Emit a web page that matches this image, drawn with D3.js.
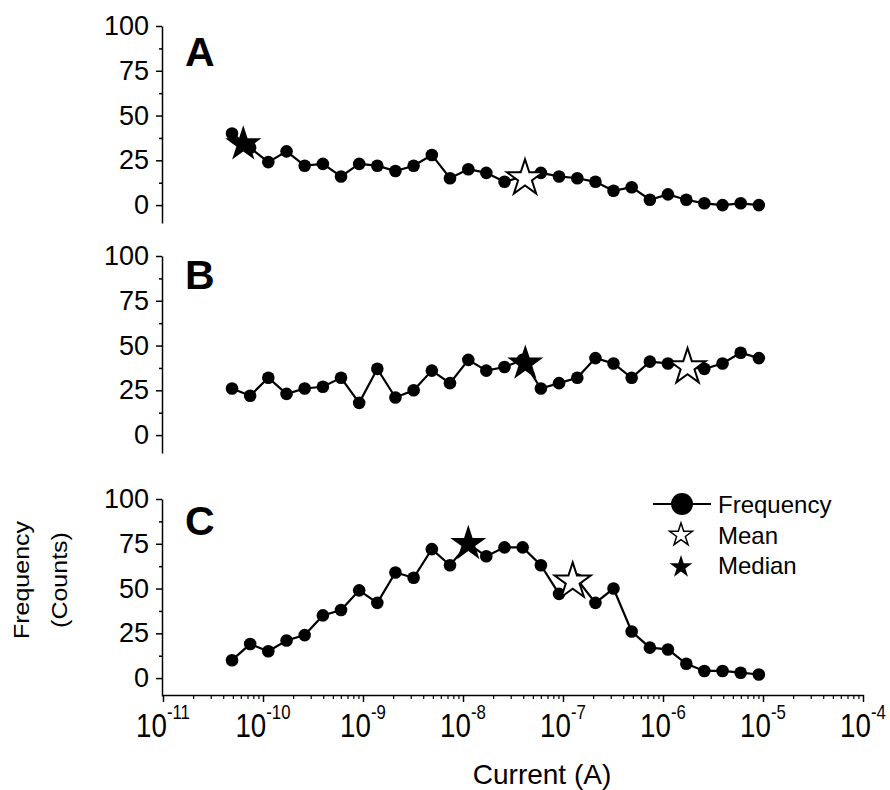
<!DOCTYPE html>
<html>
<head>
<meta charset="utf-8">
<script src="https://cdn.jsdelivr.net/npm/d3@7"></script>
<style>
  body { margin: 0; background: #fff; }
  text { font-family: Arial, "Liberation Sans", sans-serif; fill: #000; }
</style>
</head>
<body>
<svg width="890" height="790"></svg>
<script>
// bin centres (A)
const currents = [
  4.90e-11, 7.44e-11, 1.13e-10, 1.72e-10, 2.61e-10, 3.97e-10, 6.03e-10, 9.16e-10,
  1.39e-9, 2.11e-9, 3.21e-9, 4.88e-9, 7.41e-9, 1.13e-8, 1.71e-8, 2.60e-8,
  3.95e-8, 6.01e-8, 9.13e-8, 1.39e-7, 2.11e-7, 3.20e-7, 4.86e-7, 7.39e-7,
  1.12e-6, 1.71e-6, 2.59e-6, 3.94e-6, 5.98e-6, 9.09e-6
];

// counts per panel
const freqA = [40, 32, 24, 30, 22, 23, 16, 23, 22, 19, 22, 28, 15, 20, 18, 13,
               16, 18, 16, 15, 13, 8, 10, 3, 6, 3, 1, 0, 1, 0];
const freqB = [26, 22, 32, 23, 26, 27, 32, 18, 37, 21, 25, 36, 29, 42, 36, 38,
               42, 26, 29, 32, 43, 40, 32, 41, 40, 38, 37, 40, 46, 43];
const freqC = [10, 19, 15, 21, 24, 35, 38, 49, 42, 59, 56, 72, 63, 75, 68, 73,
               73, 63, 47, 55, 42, 50, 26, 17, 16, 8, 4, 4, 3, 2];

const meanX = [4.17e-8, 1.76e-6, 1.25e-7];
const meanY = [15, 38, 54];
const medianX = [6.35e-11, 4.2e-8, 1.13e-8];
const medianY = [34, 40, 75];

const panelNames = ['A', 'B', 'C'];
const yTicks = [0, 25, 50, 75, 100];
const yMinor = [12.5, 37.5, 62.5, 87.5];
const xExps = [-11, -10, -9, -8, -7, -6, -5, -4];

const svg = d3.select('svg');

const x = d3.scaleLog().domain([1e-11, 1e-4]).range([163, 863]);

const panels = [
  { name: panelNames[0], freq: freqA, top: 26, letterY: 66 },
  { name: panelNames[1], freq: freqB, top: 256, letterY: 289 },
  { name: panelNames[2], freq: freqC, top: 499, letterY: 535 }
];
panels.forEach((p, i) => {
  p.meanX = meanX[i]; p.meanY = meanY[i];
  p.medianX = medianX[i]; p.medianY = medianY[i];
});

const panelH = 197;
const star = d3.symbol().type(d3.symbolStar);
const starSize = 19 * 19 / 0.8908;

panels.forEach(p => {
  const y = d3.scaleLinear().domain([-10, 100]).range([p.top + panelH, p.top]);
  const g = svg.append('g');

  // y axis major
  const ya = g.append('g')
      .attr('transform', 'translate(162,0)')
      .call(d3.axisLeft(y).tickValues(yTicks).tickSize(6).tickSizeOuter(0).tickPadding(7));
  ya.selectAll('text').style('font-size', '27px').attr('font-family', null);
  ya.select('.domain').attr('stroke-width', 1.5);
  ya.selectAll('.tick line').attr('stroke-width', 1.5);

  // y axis minor
  const ym = g.append('g')
      .attr('transform', 'translate(162,0)')
      .call(d3.axisLeft(y).tickValues(yMinor).tickSize(3).tickFormat(''));
  ym.select('.domain').remove();
  ym.selectAll('.tick line').attr('stroke-width', 1.5);

  // panel letter
  g.append('text')
      .attr('x', 185).attr('y', p.letterY)
      .style('font-size', '41px').style('font-weight', 'bold')
      .text(p.name);

  // frequency line
  const line = d3.line().x((d, i) => x(currents[i])).y(d => y(d));
  g.append('path')
      .datum(p.freq)
      .attr('d', line)
      .attr('fill', 'none')
      .attr('stroke', '#000')
      .attr('stroke-width', 2.2);

  g.selectAll('circle.pt')
    .data(p.freq)
    .enter().append('circle')
      .attr('class', 'pt')
      .attr('cx', (d, i) => x(currents[i]))
      .attr('cy', d => y(d))
      .attr('r', 6.3)
      .attr('fill', '#000');

  // median (filled) and mean (open) stars
  g.append('path')
      .attr('d', star.size(starSize)())
      .attr('transform', `translate(${x(p.medianX)},${y(p.medianY)})`)
      .attr('fill', '#000');
  g.append('path')
      .attr('d', star.size(starSize)())
      .attr('transform', `translate(${x(p.meanX)},${y(p.meanY)})`)
      .attr('fill', '#fff')
      .attr('stroke', '#000')
      .attr('stroke-width', 2);
});

// x axis (bottom panel only)
const axisY = 695;
const xa = svg.append('g')
    .attr('transform', `translate(0,${axisY})`)
    .call(d3.axisBottom(x).tickValues(xExps.map(e => Math.pow(10, e))).tickSize(7).tickSizeOuter(0).tickFormat(''));
xa.select('.domain').attr('stroke-width', 1.5);
xa.selectAll('.tick line').attr('stroke-width', 1.5);

const minorVals = [];
xExps.slice(0, -1).forEach(e => {
  for (let k = 2; k <= 9; k++) minorVals.push(k * Math.pow(10, e));
});
const xm = svg.append('g')
    .attr('transform', `translate(0,${axisY})`)
    .call(d3.axisBottom(x).tickValues(minorVals).tickSize(4).tickFormat(''));
xm.select('.domain').remove();
xm.selectAll('.tick line').attr('stroke-width', 1.2);

// x tick labels 10^n
const lab = svg.append('g').selectAll('g')
  .data(xExps)
  .enter().append('g')
    .attr('transform', d => `translate(${x(Math.pow(10, d))},737) scale(0.84,1)`);
const lt = lab.append('text').attr('text-anchor', 'middle');
lt.append('tspan').style('font-size', '33px').text('10');
lt.append('tspan').style('font-size', '20px').attr('dy', -18).text(d => d);

// axis titles
svg.append('text')
    .attr('x', 542).attr('y', 784)
    .attr('text-anchor', 'middle')
    .style('font-size', '28px')
    .text('Current (A)');

const yt = svg.append('g').attr('transform', 'translate(0,580) scale(0.85,1)');
yt.append('text')
    .attr('transform', `translate(${29 / 0.85},0) rotate(-90)`)
    .attr('text-anchor', 'middle')
    .style('font-size', '25px')
    .text('Frequency');
yt.append('text')
    .attr('transform', `translate(${67 / 0.85},0) rotate(-90)`)
    .attr('text-anchor', 'middle')
    .style('font-size', '25px')
    .text('(Counts)');

// legend
const leg = svg.append('g');
leg.append('line')
    .attr('x1', 653).attr('x2', 711).attr('y1', 504).attr('y2', 504)
    .attr('stroke', '#000').attr('stroke-width', 2);
leg.append('circle')
    .attr('cx', 682).attr('cy', 504).attr('r', 11).attr('fill', '#000');
leg.append('path')
    .attr('d', star.size(12 * 12 / 0.8908)())
    .attr('transform', 'translate(681,535)')
    .attr('fill', '#fff').attr('stroke', '#000').attr('stroke-width', 1.5);
leg.append('path')
    .attr('d', star.size(12 * 12 / 0.8908)())
    .attr('transform', 'translate(681,567)')
    .attr('fill', '#000');
const legText = ['Frequency', 'Mean', 'Median'];
const legY = [513, 544, 574];
leg.selectAll('text.lg')
  .data(legText)
  .enter().append('text')
    .attr('class', 'lg')
    .attr('x', 718)
    .attr('y', (d, i) => legY[i])
    .style('font-size', '24px')
    .text(d => d);
</script>
</body>
</html>
